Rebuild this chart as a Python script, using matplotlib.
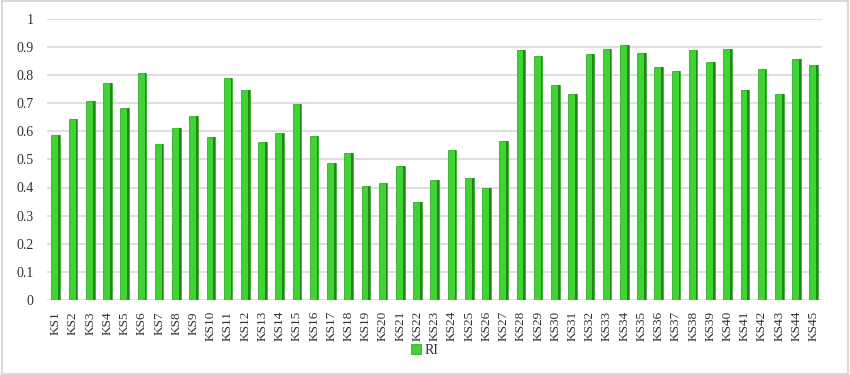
import numpy as np
import matplotlib
matplotlib.use('Agg')
import matplotlib.pyplot as plt
from matplotlib.patches import Rectangle

# data
labels = ['KS%d' % i for i in range(1, 46)]
ri = [0.585, 0.645, 0.706, 0.772, 0.683, 0.806, 0.556, 0.611, 0.655, 0.58,
      0.79, 0.745, 0.562, 0.594, 0.697, 0.584, 0.488, 0.522, 0.404, 0.416,
      0.478, 0.349, 0.428, 0.534, 0.434, 0.4, 0.567, 0.889, 0.868, 0.766,
      0.733, 0.873, 0.894, 0.906, 0.878, 0.828, 0.816, 0.889, 0.845, 0.894,
      0.745, 0.822, 0.733, 0.857, 0.834]
yticks = [0, 0.1, 0.2, 0.3, 0.4, 0.5, 0.6, 0.7, 0.8, 0.9, 1]
series_name = 'RI'

plt.rcParams['font.family'] = ['Liberation Serif', 'DejaVu Serif']

fig = plt.figure(figsize=(8.5, 3.75), dpi=100)
fig.patch.set_facecolor('white')
ax = fig.add_axes([0.0555, 0.2, 0.912, 0.75])

x = np.arange(len(labels))
w = 0.5
front = '#3ed431'
side = '#23851a'
ax.bar(x, ri, width=w, color=front, edgecolor='#2a9a20', linewidth=0.5,
       zorder=3, label=series_name)
# darker right side for the 3-D look
ax.bar(x + w / 2 - w * 0.1, ri, width=w * 0.2, color=side, linewidth=0,
       zorder=4)

ax.set_xlim(-0.5, len(labels) - 0.5)
ax.set_ylim(0, 1)
ax.set_yticks(yticks)
ax.set_yticklabels(['%g' % t for t in yticks], fontsize=10, color='#303030')
ax.set_xticks(x)
ax.set_xticklabels(labels, rotation=90, fontsize=9.5, color='#303030')
ax.tick_params(length=0, pad=10)
ax.tick_params(axis='x', pad=8)
ax.yaxis.grid(True, color='#d9d9d9', linewidth=1.2, zorder=0)
for s in ax.spines.values():
    s.set_visible(False)

leg = fig.legend(loc='center', bbox_to_anchor=(0.5, 0.065), frameon=False,
                 fontsize=10, handlelength=0.7, handleheight=0.7,
                 handletextpad=0.3)
for t in leg.get_texts():
    t.set_color('#303030')

fig.patches.append(Rectangle((0.002, 0.003), 0.996, 0.994, transform=fig.transFigure,
                             fill=False, edgecolor='#d9d9d9', linewidth=1.5))

fig.savefig('out.png', dpi=100)
